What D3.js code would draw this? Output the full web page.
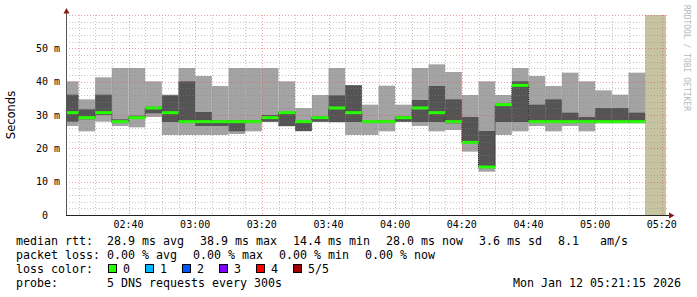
<!DOCTYPE html>
<html>
<head>
<meta charset="utf-8">
<script src="https://cdn.jsdelivr.net/npm/d3@7"></script>
<style>
html, body { margin: 0; padding: 0; background: #fff; }
svg { display: block; }
text { white-space: pre; }
</style>
</head>
<body>
<div id="chart"></div>
<script>
// 5 min steps, value belongs to the interval ending at this time
const endTimes = ["02:25","02:30","02:35","02:40","02:45","02:50","02:55","03:00","03:05","03:10",
                  "03:15","03:20","03:25","03:30","03:35","03:40","03:45","03:50","03:55","04:00",
                  "04:05","04:10","04:15","04:20","04:25","04:30","04:35","04:40","04:45","04:50",
                  "04:55","05:00","05:05","05:10","05:15"];
const minRtt    = [26.7,25.1,28.0,26.7,26.3,29.4,24.0,24.0,24.0,24.0, 24.3,25.1,27.9,26.6,25.1,27.9,27.8,24.0,24.0,25.1, 27.9,26.7,25.1,25.5,19.0,13.0,24.0,25.1,26.7,25.1, 26.7,25.1,27.5,27.5,27.5];
const p2Rtt     = [28.0,28.7,30.0,27.6,28.8,30.5,27.9,27.7,26.7,26.7, 25.1,27.6,28.0,26.7,25.2,28.0,27.9,27.9,27.7,27.6, 28.0,27.9,27.9,27.5,21.5,14.2,27.9,27.9,27.7,27.6, 27.6,27.6,27.7,27.7,27.7];
const medianRtt = [30.7,29.2,30.7,28.0,29.2,32.1,30.7,28.0,28.0,28.0, 28.0,28.0,29.2,30.7,28.0,29.2,32.1,30.7,28.0,28.0, 29.2,32.1,30.7,28.0,21.8,14.4,33.1,38.9,28.0,28.0, 28.0,28.0,28.0,28.0,28.0];
const p4Rtt     = [36.1,31.7,36.1,28.7,29.8,32.5,35.9,40.1,30.9,28.5, 28.5,28.4,30.0,31.0,28.3,29.6,35.9,38.9,28.3,28.4, 29.7,34.5,38.7,34.7,29.4,25.2,33.4,40.1,33.1,34.7, 30.7,29.4,32.1,32.1,30.7];
const maxRtt    = [40.1,34.7,41.3,44.1,44.1,40.1,36.1,44.1,41.7,38.7, 44.1,44.1,44.1,40.1,32.1,36.0,44.1,39.0,33.1,38.8, 33.1,44.1,45.2,42.9,36.0,40.1,36.0,44.1,41.7,38.7, 42.7,40.1,37.4,36.1,42.7];

const startTime = "02:21:15";
const endTime = "05:21:15";
const unknownFrom = "05:15:00";

const yTicks = [0, 10, 20, 30, 40, 50];
const xTickLabels = ["02:40","03:00","03:20","03:40","04:00","04:20","04:40","05:00","05:20"];

const rttLegend = ["28.9 ms avg", "38.9 ms max", "14.4 ms min", "28.0 ms now", "3.6 ms sd", "8.1   am/s"];
const lossLegend = ["0.00 % avg", "0.00 % max", "0.00 % min", "0.00 % now"];
const lossLabels = ["0", "1", "2", "3", "4", "5/5"];
const lossColors = ["#26ff00", "#00b8ff", "#0059ff", "#7e00ff", "#ff0000", "#a00000"];
const probeText = "5 DNS requests every 300s";
const stampText = "Mon Jan 12 05:21:15 2026";

const W = 697, H = 297;
const mono = "'DejaVu Sans Mono', monospace";

const parseT = d3.timeParse("%H:%M:%S");
const T = s => parseT(s.length === 5 ? s + ":00" : s);
const t0 = T(startTime), t1 = T(endTime);

const x = d3.scaleTime().domain([t0, t1]).range([66, 666]);
const y = d3.scaleLinear().domain([0, 60]).range([215, 15]);

const bars = endTimes.map((e, i) => {
    const te = T(e);
    return {
        start: new Date(Math.max(+te - 300000, +t0)),
        end: te,
        min: minRtt[i], p2: p2Rtt[i], med: medianRtt[i], p4: p4Rtt[i], max: maxRtt[i]
    };
});

const svg = d3.select("#chart").append("svg")
    .attr("width", W).attr("height", H)
    .style("font-family", mono);

svg.append("rect").attr("width", W).attr("height", H).attr("fill", "#fff");

// no data area
svg.append("rect")
    .attr("x", x(T(unknownFrom))).attr("y", y(60))
    .attr("width", x(t1) - x(T(unknownFrom)))
    .attr("height", y(0) - y(60))
    .attr("fill", "#c6c3a1");

// smoke
const g = svg.append("g");
g.selectAll(".outer").data(bars).enter().append("rect")
    .attr("x", d => x(d.start)).attr("width", d => x(d.end) - x(d.start))
    .attr("y", d => y(d.max)).attr("height", d => y(d.min) - y(d.max))
    .attr("fill", "#a3a3a3");
g.selectAll(".inner").data(bars).enter().append("rect")
    .attr("x", d => x(d.start)).attr("width", d => x(d.end) - x(d.start))
    .attr("y", d => y(d.p4)).attr("height", d => y(d.p2) - y(d.p4))
    .attr("fill", "#545454");

// median step line
const pts = bars.map(d => [d.start, d.med]);
pts.push([bars[bars.length - 1].end, bars[bars.length - 1].med]);
g.append("path")
    .datum(pts)
    .attr("fill", "none")
    .attr("stroke", "#202020")
    .attr("stroke-width", 1)
    .attr("stroke-dasharray", "1,1")
    .attr("d", d3.line().x(d => x(d[0])).y(d => y(d[1])).curve(d3.curveStepAfter));

// loss coloured median (all 0 loss)
g.selectAll(".med").data(bars).enter().append("rect")
    .attr("x", d => x(d.start)).attr("width", d => x(d.end) - x(d.start))
    .attr("y", d => y(d.med) - 1.5).attr("height", 3)
    .attr("fill", lossColors[0]);

// grid on top
const grid = svg.append("g").attr("stroke-dasharray", "1,2").attr("stroke-width", 1);
d3.range(0, 61, 2).forEach(v => {
    const major = v % 10 === 0;
    if (v === 0) return;
    grid.append("line")
        .attr("x1", 66).attr("x2", 667)
        .attr("y1", Math.round(y(v)) + 0.5).attr("y2", Math.round(y(v)) + 0.5)
        .attr("stroke", major ? "rgba(222,70,70,0.5)" : "rgba(130,130,130,0.45)");
});
d3.timeMinute.every(5).range(t0, t1).forEach(t => {
    const major = t.getMinutes() % 20 === 0;
    grid.append("line")
        .attr("x1", Math.round(x(t)) + 0.5).attr("x2", Math.round(x(t)) + 0.5)
        .attr("y1", 15).attr("y2", 215)
        .attr("stroke", major ? "rgba(222,70,70,0.5)" : "rgba(130,130,130,0.45)");
});

// axes
svg.append("line").attr("x1", 66.5).attr("x2", 66.5).attr("y1", 215).attr("y2", 11)
    .attr("stroke", "#555");
svg.append("line").attr("x1", 66).attr("x2", 670).attr("y1", 215.5).attr("y2", 215.5)
    .attr("stroke", "#222");
svg.append("path").attr("d", "M63.5,13.5 L69.5,13.5 L66.5,8 Z").attr("fill", "#8b1a1a");
svg.append("path").attr("d", "M669,212.5 L669,218.5 L674.5,215.5 Z").attr("fill", "#8b1a1a");

// y tick labels
svg.selectAll(".ytick").data(yTicks).enter().append("text")
    .attr("x", 60).attr("y", d => y(d) + 3.5)
    .attr("text-anchor", "end")
    .style("font-size", "10px").attr("fill", "#000")
    .text(d => d === 0 ? "0  " : d + " m");

// x tick labels
svg.selectAll(".xtick").data(xTickLabels).enter().append("text")
    .attr("x", d => x(T(d))).attr("y", 228)
    .attr("text-anchor", "middle")
    .style("font-size", "10px").attr("fill", "#000")
    .text(d => d);

// y title
svg.append("text")
    .attr("transform", "translate(15," + ((y(0) + y(60)) / 2) + ") rotate(-90)")
    .attr("text-anchor", "middle")
    .style("font-family", "'DejaVu Sans', sans-serif")
    .style("font-size", "11.5px")
    .text("Seconds");

// watermark
svg.append("text")
    .attr("transform", "translate(684,5) rotate(90)")
    .style("font-size", "8px").attr("fill", "#b8b8b8")
    .text("RRDTOOL / TOBI OETIKER");

// legend
const fs = "11.63px";
const gap = 16;
function legendRow(label, items, yy) {
    svg.append("text").attr("x", 16).attr("y", yy).style("font-size", fs).text(label);
    let xx = 107;
    items.forEach(s => {
        const t = svg.append("text").attr("x", xx).attr("y", yy).style("font-size", fs).text(s);
        xx += t.node().getComputedTextLength() + gap;
    });
}
legendRow("median rtt:", rttLegend, 245);
legendRow("packet loss:", lossLegend, 259);

svg.append("text").attr("x", 16).attr("y", 273).style("font-size", fs).text("loss color:");
lossLabels.forEach((l, i) => {
    const bx = 108 + 37 * i;
    svg.append("rect").attr("x", bx + 0.5).attr("y", 264.5).attr("width", 8).attr("height", 8)
        .attr("fill", lossColors[i]).attr("stroke", "#000");
    svg.append("text").attr("x", bx + 15).attr("y", 273).style("font-size", fs).text(l);
});

svg.append("text").attr("x", 16).attr("y", 287).style("font-size", fs).text("probe:");
svg.append("text").attr("x", 107).attr("y", 287).style("font-size", fs).text(probeText);
svg.append("text").attr("x", 681).attr("y", 287).attr("text-anchor", "end")
    .style("font-size", fs).text(stampText);
</script>
</body>
</html>
